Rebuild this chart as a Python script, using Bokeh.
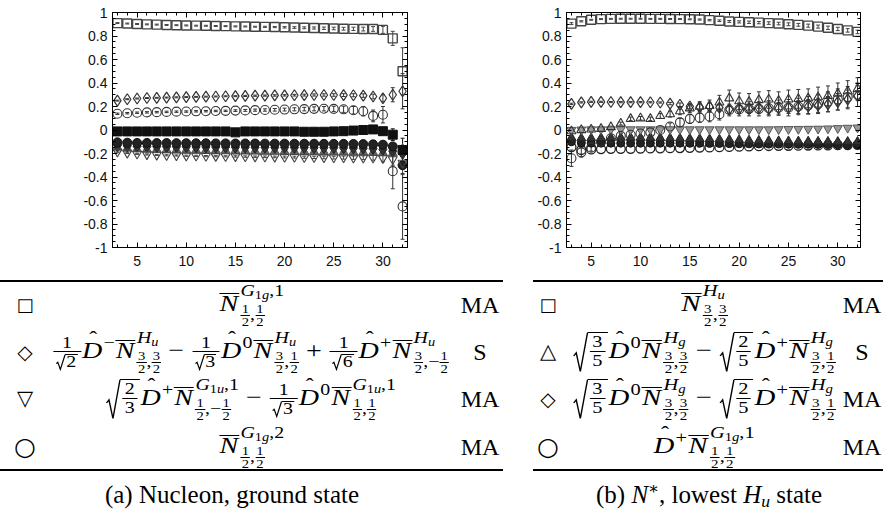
from bokeh.plotting import figure
from bokeh.models import (ColumnDataSource, Whisker, TeeHead, LinearAxis, SingleIntervalTicker,
                          Range1d, Div, CustomJSTickFormatter)
from bokeh.layouts import column, row
from bokeh.embed import file_html
from bokeh.resources import INLINE

# ---------------- data ----------------
T = [3, 4, 5, 6, 7, 8, 9, 10, 11, 12, 13, 14, 15, 16, 17, 18, 19, 20, 21, 22,
     23, 24, 25, 26, 27, 28, 29, 30, 31, 32]

# (a) Nucleon, ground state
a_sq = [0.910, 0.906, 0.902, 0.899, 0.897, 0.894, 0.892, 0.890, 0.888, 0.887,
        0.885, 0.884, 0.882, 0.881, 0.879, 0.878, 0.876, 0.874, 0.872, 0.870,
        0.868, 0.866, 0.864, 0.862, 0.861, 0.859, 0.860, 0.852, 0.780, 0.500]
a_sq_e = [0.004, 0.004, 0.004, 0.004, 0.004, 0.004, 0.004, 0.004, 0.004, 0.004,
          0.004, 0.004, 0.004, 0.004, 0.004, 0.005, 0.005, 0.006, 0.007, 0.008,
          0.009, 0.010, 0.011, 0.012, 0.014, 0.016, 0.020, 0.030, 0.060, 0.200]
a_di = [0.250, 0.262, 0.268, 0.272, 0.274, 0.276, 0.278, 0.280, 0.282, 0.284,
        0.285, 0.287, 0.288, 0.290, 0.292, 0.293, 0.294, 0.295, 0.296, 0.297,
        0.298, 0.298, 0.298, 0.297, 0.296, 0.293, 0.285, 0.270, 0.300, 0.330]
a_di_e = [0.004, 0.004, 0.004, 0.004, 0.004, 0.004, 0.004, 0.004, 0.004, 0.004,
          0.004, 0.004, 0.004, 0.005, 0.005, 0.005, 0.006, 0.006, 0.007, 0.008,
          0.009, 0.010, 0.011, 0.012, 0.013, 0.015, 0.020, 0.030, 0.060, 0.150]
a_ci = [0.138, 0.143, 0.147, 0.150, 0.152, 0.154, 0.156, 0.157, 0.159, 0.160,
        0.162, 0.163, 0.165, 0.167, 0.169, 0.170, 0.172, 0.174, 0.176, 0.178,
        0.180, 0.181, 0.180, 0.176, 0.168, 0.160, 0.120, 0.130, -0.350, -0.650]
a_ci_e = [0.006, 0.006, 0.006, 0.006, 0.006, 0.006, 0.006, 0.006, 0.006, 0.006,
          0.006, 0.006, 0.007, 0.008, 0.009, 0.010, 0.011, 0.012, 0.013, 0.015,
          0.017, 0.019, 0.022, 0.026, 0.032, 0.040, 0.050, 0.070, 0.150, 0.280]
a_tr = [-0.185, -0.195, -0.203, -0.208, -0.212, -0.215, -0.217, -0.219, -0.220, -0.222,
        -0.223, -0.224, -0.225, -0.226, -0.227, -0.228, -0.229, -0.230, -0.231, -0.232,
        -0.233, -0.234, -0.235, -0.235, -0.236, -0.236, -0.237, -0.240, -0.250, -0.280]
a_tr_e = [0.005, 0.005, 0.005, 0.005, 0.005, 0.005, 0.005, 0.005, 0.005, 0.005,
          0.005, 0.005, 0.006, 0.006, 0.006, 0.007, 0.007, 0.008, 0.008, 0.009,
          0.010, 0.011, 0.012, 0.013, 0.014, 0.016, 0.020, 0.030, 0.050, 0.100]
a_fsq = [-0.012, -0.012, -0.012, -0.012, -0.012, -0.012, -0.012, -0.012, -0.012, -0.012,
         -0.012, -0.012, -0.020, -0.012, -0.012, -0.012, -0.012, -0.012, -0.012, -0.015,
         -0.015, -0.015, -0.012, -0.010, -0.005, 0.000, 0.005, -0.010, -0.040, -0.170]
a_fsq_e = [0.005, 0.005, 0.005, 0.005, 0.005, 0.005, 0.005, 0.005, 0.005, 0.005,
           0.005, 0.005, 0.005, 0.005, 0.005, 0.005, 0.005, 0.006, 0.006, 0.006,
           0.007, 0.007, 0.008, 0.009, 0.010, 0.015, 0.020, 0.030, 0.050, 0.100]
a_dk1 = [-0.105, -0.108, -0.110, -0.110, -0.111, -0.111, -0.112, -0.112, -0.113, -0.113,
         -0.114, -0.114, -0.115, -0.115, -0.115, -0.116, -0.116, -0.116, -0.117, -0.117,
         -0.117, -0.118, -0.118, -0.118, -0.119, -0.120, -0.122, -0.125, -0.140, -0.300]
a_dk2 = [-0.130, -0.135, -0.138, -0.140, -0.141, -0.142, -0.143, -0.143, -0.144, -0.144,
         -0.145, -0.145, -0.146, -0.146, -0.147, -0.147, -0.148, -0.148, -0.149, -0.149,
         -0.150, -0.150, -0.151, -0.152, -0.153, -0.155, -0.158, -0.165, -0.180, -0.200]
a_dk3 = [-0.150, -0.158, -0.163, -0.166, -0.168, -0.170, -0.171, -0.172, -0.173, -0.174,
         -0.175, -0.176, -0.177, -0.178, -0.179, -0.180, -0.181, -0.182, -0.183, -0.184,
         -0.185, -0.186, -0.187, -0.188, -0.189, -0.190, -0.192, -0.195, -0.200, -0.160]

# (b) N*, lowest H_u state
b_sq = [0.905, 0.925, 0.938, 0.944, 0.946, 0.947, 0.947, 0.947, 0.946, 0.946,
        0.945, 0.944, 0.942, 0.940, 0.935, 0.930, 0.924, 0.920, 0.917, 0.914,
        0.910, 0.906, 0.900, 0.895, 0.888, 0.880, 0.870, 0.860, 0.848, 0.835]
b_sq_e = [0.008, 0.005, 0.004, 0.004, 0.004, 0.004, 0.004, 0.004, 0.004, 0.004,
          0.004, 0.004, 0.004, 0.005, 0.006, 0.007, 0.008, 0.009, 0.010, 0.010,
          0.011, 0.011, 0.012, 0.012, 0.013, 0.013, 0.014, 0.014, 0.015, 0.015]
b_di = [0.222, 0.235, 0.240, 0.240, 0.238, 0.237, 0.237, 0.237, 0.236, 0.234,
        0.225, 0.215, 0.200, 0.195, 0.200, 0.190, 0.175, 0.180, 0.180, 0.185,
        0.180, 0.185, 0.190, 0.195, 0.200, 0.210, 0.220, 0.240, 0.260, 0.290]
b_di_e = [0.006, 0.005, 0.005, 0.005, 0.005, 0.005, 0.005, 0.005, 0.005, 0.005,
          0.010, 0.015, 0.020, 0.025, 0.030, 0.030, 0.035, 0.040, 0.040, 0.045,
          0.050, 0.050, 0.050, 0.055, 0.060, 0.060, 0.065, 0.070, 0.080, 0.090]
b_tr = [-0.010, 0.000, 0.005, 0.010, 0.025, 0.055, 0.095, 0.100, 0.095, 0.120,
        0.135, 0.160, 0.185, 0.200, 0.205, 0.235, 0.270, 0.245, 0.240, 0.255,
        0.260, 0.250, 0.260, 0.265, 0.270, 0.280, 0.290, 0.310, 0.330, 0.350]
b_tr_e = [0.008, 0.008, 0.008, 0.008, 0.008, 0.012, 0.015, 0.015, 0.015, 0.020,
          0.025, 0.030, 0.035, 0.040, 0.050, 0.060, 0.070, 0.070, 0.070, 0.070,
          0.075, 0.075, 0.080, 0.080, 0.080, 0.085, 0.085, 0.090, 0.090, 0.095]
b_ci = [-0.240, -0.190, -0.150, -0.100, -0.070, -0.050, -0.040, -0.030, -0.020, 0.000,
        0.030, 0.065, 0.095, 0.105, 0.115, 0.135, 0.170, 0.175, 0.180, 0.180,
        0.185, 0.190, 0.190, 0.200, 0.210, 0.220, 0.240, 0.260, 0.280, 0.300]
b_ci_e = [0.070, 0.040, 0.030, 0.025, 0.020, 0.020, 0.020, 0.020, 0.020, 0.020,
          0.030, 0.035, 0.040, 0.040, 0.045, 0.050, 0.050, 0.055, 0.060, 0.060,
          0.065, 0.065, 0.070, 0.070, 0.075, 0.080, 0.085, 0.090, 0.090, 0.100]
b_td = [0.000, 0.003, 0.005, 0.005, 0.005, 0.005, 0.005, 0.005, 0.005, 0.005,
        0.005, 0.005, 0.005, 0.005, 0.005, 0.005, 0.005, 0.005, 0.005, 0.005,
        0.005, 0.006, 0.007, 0.008, 0.009, 0.010, 0.012, 0.015, 0.018, 0.020]
b_dk1 = [-0.065, -0.070, -0.070, -0.068, -0.066, -0.065, -0.065, -0.066, -0.067, -0.068,
         -0.070, -0.072, -0.074, -0.076, -0.078, -0.080, -0.082, -0.085, -0.088, -0.090,
         -0.092, -0.094, -0.095, -0.096, -0.097, -0.098, -0.099, -0.100, -0.100, -0.100]
b_dk2 = [-0.100, -0.110, -0.112, -0.112, -0.112, -0.112, -0.112, -0.112, -0.112, -0.112,
         -0.112, -0.112, -0.113, -0.113, -0.114, -0.115, -0.116, -0.117, -0.118, -0.119,
         -0.120, -0.120, -0.121, -0.122, -0.122, -0.123, -0.124, -0.125, -0.126, -0.127]
b_ci2 = [-0.145, -0.170, -0.165, -0.162, -0.160, -0.160, -0.160, -0.158, -0.157, -0.156,
         -0.155, -0.154, -0.152, -0.150, -0.148, -0.146, -0.144, -0.142, -0.140, -0.138,
         -0.136, -0.135, -0.134, -0.133, -0.132, -0.131, -0.130, -0.129, -0.128, -0.127]

X_TICK_STEP = 5
Y_TICK_STEP = 0.2

# ---------------- plots ----------------
TICKFMT = CustomJSTickFormatter(code="return (Math.round(tick*10)/10).toString();")


def style_axis(ax, labels=True):
    ax.axis_line_color = "black"
    ax.axis_line_width = 1
    ax.major_tick_in = 5
    ax.major_tick_out = 0
    ax.minor_tick_in = 3
    ax.minor_tick_out = 0
    ax.major_tick_line_color = "black"
    ax.minor_tick_line_color = "black"
    if labels:
        ax.major_label_text_font = "Liberation Sans"
        ax.major_label_text_font_size = "14px"
        ax.major_label_text_color = "#111111"
        ax.major_label_standoff = 5
    else:
        ax.major_label_text_font_size = "0px"
        ax.major_label_standoff = 0


def make_panel(width, bl, br, xmax):
    p = figure(width=width, height=272, x_range=Range1d(2.5, xmax), y_range=Range1d(-1, 1),
               output_backend="svg", toolbar_location=None,
               min_border_left=bl, min_border_right=br, min_border_top=12, min_border_bottom=25)
    p.grid.visible = False
    p.outline_line_color = "black"
    p.outline_line_width = 1
    xt = SingleIntervalTicker(interval=X_TICK_STEP, num_minor_ticks=5)
    yt = SingleIntervalTicker(interval=Y_TICK_STEP, num_minor_ticks=4)
    p.xaxis.ticker = xt
    p.yaxis.ticker = yt
    p.yaxis.formatter = TICKFMT
    style_axis(p.xaxis[0])
    style_axis(p.yaxis[0])
    p.xaxis[0].major_label_standoff = 8
    empty = CustomJSTickFormatter(code="return '';")
    top = LinearAxis(ticker=xt, formatter=empty)
    right = LinearAxis(ticker=yt, formatter=empty)
    style_axis(top, False)
    style_axis(right, False)
    p.add_layout(top, "above")
    p.add_layout(right, "right")
    return p


def series(p, ys, errs, marker, size, line, fill, lw=1.0, ecolor=None):
    lo = [y - e for y, e in zip(ys, errs)] if errs else ys
    hi = [y + e for y, e in zip(ys, errs)] if errs else ys
    src = ColumnDataSource(dict(t=T, y=ys, lo=lo, hi=hi))
    if errs:
        ec = ecolor or line
        w = Whisker(source=src, base="t", lower="lo", upper="hi", line_color=ec, line_width=1,
                    upper_head=TeeHead(size=4, line_color=ec, line_width=1),
                    lower_head=TeeHead(size=4, line_color=ec, line_width=1))
        p.add_layout(w)
    p.scatter("t", "y", source=src, marker=marker, size=size, line_color=line,
              fill_color=fill, line_width=lw)


pa = make_panel(447, 112, 40, 32.5)
series(pa, a_dk3, None, "triangle", 9, "#555555", "#666666")
series(pa, a_dk2, None, "diamond", 12, "#222222", "#333333")
series(pa, a_dk1, None, "circle", 9, "#111111", "#222222")
series(pa, a_tr, a_tr_e, "inverted_triangle", 9, "#444444", None, 1.1)
series(pa, a_fsq, a_fsq_e, "square", 9, "#111111", "#111111")
series(pa, a_ci, a_ci_e, "circle", 9, "#333333", None, 1.1)
series(pa, a_di, a_di_e, "diamond", 11, "#333333", None, 1.2)
series(pa, a_sq, a_sq_e, "square", 9, "#444444", None, 1.4)

pb = make_panel(436, 119, 23, 32.3)
series(pb, b_ci2, None, "circle", 9, "#222222", None, 1.3)
series(pb, b_dk2, None, "circle", 8, "#111111", "#222222")
series(pb, b_dk1, None, "triangle", 9, "#222222", "#333333")
series(pb, b_td, None, "inverted_triangle", 9, "#555555", "#999999")
series(pb, b_ci, b_ci_e, "circle", 9, "#333333", None, 1.1)
series(pb, b_tr, b_tr_e, "triangle", 9, "#333333", None, 1.1)
series(pb, b_di, b_di_e, "diamond", 11, "#333333", None, 1.2)
series(pb, b_sq, b_sq_e, "square", 9, "#444444", None, 1.4)

# ---------------- table (HTML math) ----------------
F = 24            # main math size
S = 17            # script size
SS = 12.5         # scriptscript size
SXL = 1.17        # horizontal stretch of formulas (Computer Modern is wider)
SXR = 1.2
SERIF = "Liberation Serif, DejaVu Serif, serif"
SYM = "DejaVu Sans"


def ovN():
    return ('<span style="display:inline-block;border-top:1.5px solid #000;line-height:0.72em;'
            'padding-top:1px;margin-left:1px;padding-right:1px"><i>N</i></span>')


def dhat(sup):
    return ('<span style="position:relative;display:inline-block"><i>D</i>'
            '<span style="position:absolute;left:0.30em;top:-0.40em;font-size:85%">&#710;</span></span>'
            f'<span style="font-size:{S}px;position:relative;top:-0.55em;margin-left:1px">{sup}</span>')


def sfr(n, d, fs=SS):
    return (f'<span style="display:inline-flex;flex-direction:column;text-align:center;'
            f'vertical-align:middle;font-size:{fs}px;line-height:1.0">'
            f'<span style="border-bottom:0.8px solid #000;padding:0 1px">{n}</span>'
            f'<span style="padding:0 1px">{d}</span></span>')


def tfr(n, d):
    return (f'<span style="display:inline-flex;flex-direction:column;text-align:center;'
            f'vertical-align:middle;font-size:{S}px;line-height:1.05;margin:0 1px">'
            f'<span style="border-bottom:1px solid #000;padding:0 2px">{n}</span>'
            f'<span style="padding:0 2px">{d}</span></span>')


def rad(inner, h, w=12, sw=1.2):
    svg = (f'<svg width="{w}" height="{h}" style="display:block;overflow:visible">'
           f'<path d="M0.5 {h*0.60:.1f} L{w*0.22:.1f} {h*0.52:.1f} L{w*0.50:.1f} {h-0.5:.1f} '
           f'L{w:.1f} 0.75" fill="none" stroke="#000" stroke-width="{sw}"/></svg>')
    return (f'<span style="display:inline-flex;vertical-align:middle;margin-right:1px">{svg}'
            f'<span style="display:inline-flex;align-items:center;height:{h-1.5}px;'
            f'border-top:1.5px solid #000;padding:0 1px">{inner}</span></span>')


def ss(sup, sub):
    return (f'<span style="display:inline-flex;flex-direction:column;vertical-align:middle;'
            f'font-size:{S}px;line-height:1;margin-left:1px;text-align:left">'
            f'<span style="margin-bottom:4px;white-space:nowrap">{sup}</span>'
            f'<span style="white-space:nowrap">{sub}</span></span>')


def lowr(s):
    return f'<span style="font-size:72%;position:relative;top:0.30em">{s}</span>'


def op(c):
    return f'<span style="margin:0 0.25em">{c}</span>'


G1g1 = '<i>G</i>' + lowr('1<i>g</i>') + ',1'
G1g2 = '<i>G</i>' + lowr('1<i>g</i>') + ',2'
G1u1 = '<i>G</i>' + lowr('1<i>u</i>') + ',1'
Hu = '<i>H</i>' + lowr('<i>u</i>')
Hg = '<i>H</i>' + lowr('<i>g</i>')
h = sfr('1', '2')
t3 = sfr('3', '2')
sq2 = rad('2', 16, 8, 1.0)
sq3 = rad('3', 16, 8, 1.0)
sq6 = rad('6', 16, 8, 1.0)

row1L = ovN() + ss(G1g1, h + ',' + h)
row2L = (tfr('1', sq2) + dhat('&#8722;') + ovN() + ss(Hu, t3 + ',' + t3) + op('&#8722;') +
         tfr('1', sq3) + dhat('0') + ovN() + ss(Hu, t3 + ',' + h) + op('+') +
         tfr('1', sq6) + dhat('+') + ovN() + ss(Hu, t3 + ',&#8722;' + h))
row3L = (rad(tfr('2', '3'), 40) + dhat('+') + ovN() + ss(G1u1, h + ',&#8722;' + h) + op('&#8722;') +
         tfr('1', sq3) + dhat('0') + ovN() + ss(G1u1, h + ',' + h))
row4L = ovN() + ss(G1g2, h + ',' + h)

row1R = ovN() + ss(Hu, t3 + ',' + t3)
row23R = (rad(tfr('3', '5'), 40) + dhat('0') + ovN() + ss(Hg, t3 + ',' + t3) + op('&#8722;') +
          rad(tfr('2', '5'), 40) + dhat('+') + ovN() + ss(Hg, t3 + ',' + h))
row4R = dhat('+') + ovN() + ss(G1g1, h + ',' + h)

left_rows = [("&#9633;", 18, row1L, "MA"), ("&#9671;", 20, row2L, "S"),
             ("&#9661;", 21, row3L, "MA"), ("&#9675;", 25, row4L, "MA")]
right_rows = [("&#9633;", 18, row1R, "MA"), ("&#9651;", 21, row23R, "S"),
              ("&#9671;", 20, row23R, "MA"), ("&#9675;", 25, row4R, "MA")]
ROW_Y = [33, 80, 127, 175]


def cell(cx, cy, content, fs, fam=SERIF, w=480, hgt=60, sx=1.0):
    tr = f'display:inline-block;transform:scaleX({sx});' if sx != 1.0 else ''
    return (f'<div style="position:absolute;left:{cx - w/2}px;width:{w}px;top:{cy - hgt/2}px;'
            f'height:{hgt}px;display:flex;align-items:center;justify-content:center;'
            f'white-space:nowrap;font-family:{fam};font-size:{fs}px;line-height:1.1">'
            f'<span style="{tr}">{content}</span></div>')


def rule(x0, x1, y):
    return (f'<div style="position:absolute;left:{x0}px;width:{x1 - x0}px;top:{y}px;height:0;'
            f'border-top:2.5px solid #000"></div>')


parts = []
parts.append(rule(0, 503, 8))
parts.append(rule(0, 503, 197))
parts.append(rule(533, 883, 8))
parts.append(rule(533, 883, 197))
for (sym, sfs, form, tag), y in zip(left_rows, ROW_Y):
    parts.append(cell(25, y, sym, sfs, SYM, 40))
    parts.append(cell(251, y, form, F, SERIF, 480, 60, SXL))
    parts.append(cell(480, y, tag, F, SERIF, 60))
for (sym, sfs, form, tag), y in zip(right_rows, ROW_Y):
    parts.append(cell(548, y, sym, sfs, SYM, 40))
    parts.append(cell(704, y, form, F, SERIF, 300, 60, SXR))
    parts.append(cell(862, y, tag, F, SERIF, 60))
parts.append(cell(232, 223, "(a) Nucleon, ground state", 25, SERIF, 400, 30))
parts.append(cell(709, 223, '(b) <i>N</i><span style="font-size:65%;position:relative;top:-0.55em">'
                  '&#8727;</span>, lowest <i>H</i><span style="font-size:70%;position:relative;'
                  'top:0.2em"><i>u</i></span> state', 25, SERIF, 400, 30))

html = ('<div style="position:relative;width:883px;height:238px;color:#000;font-family:'
        + SERIF + '">' + "".join(parts) + '</div>')

table = Div(text=html, width=883, height=238, margin=(0, 0, 0, 0), disable_math=True,
            styles={"overflow": "visible", "font-family": SERIF})

layout = column(row(pa, pb), table)
open("out.html", "w").write(file_html(layout, INLINE))
